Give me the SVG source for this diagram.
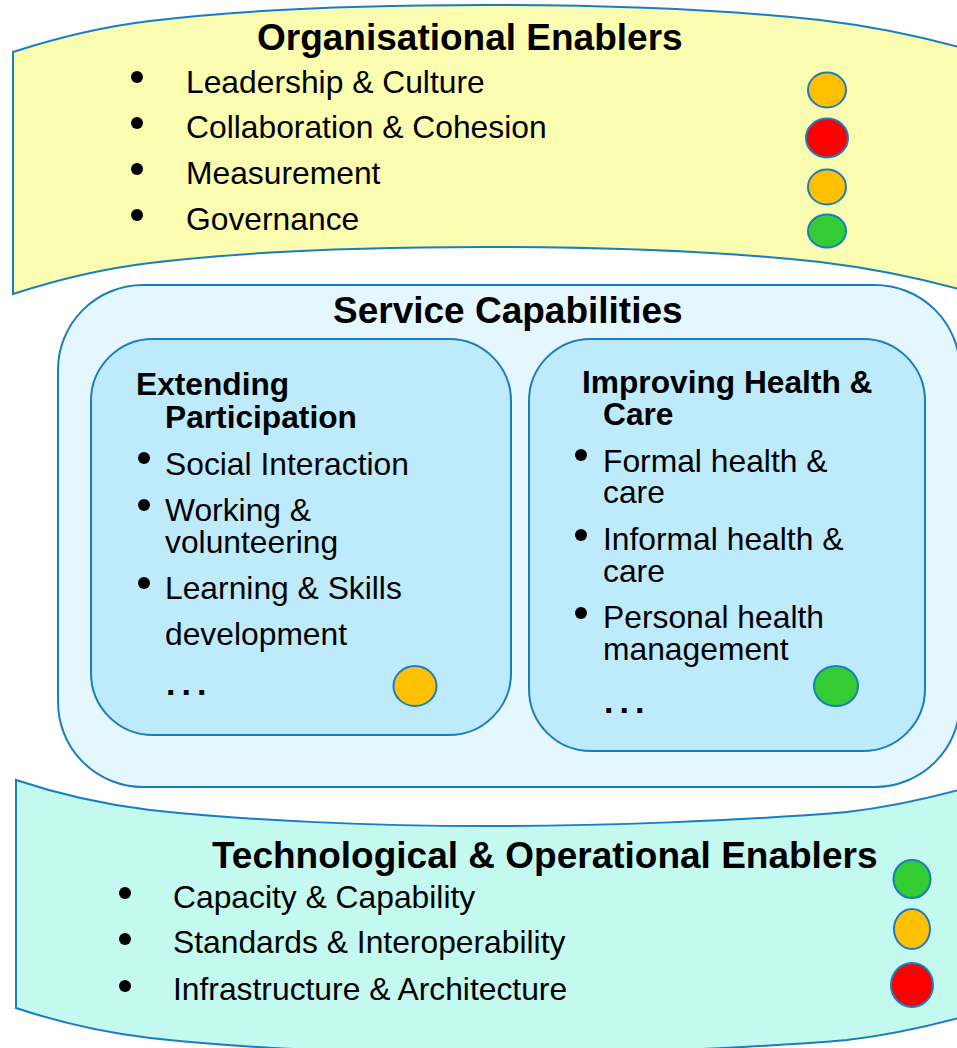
<svg xmlns="http://www.w3.org/2000/svg" width="957" height="1048" viewBox="0 0 957 1048">
<style>
.band{stroke:#1B7DBE;stroke-width:2}
.box{stroke:#1B7DBE;stroke-width:2}
.t{font-family:"Liberation Sans",Arial,sans-serif;font-size:31.8px;fill:#000}
.h{font-family:"Liberation Sans",Arial,sans-serif;font-size:37px;font-weight:bold;fill:#000}
.hb{font-family:"Liberation Sans",Arial,sans-serif;font-size:31.7px;font-weight:bold;fill:#000}
.el{font-family:"Liberation Sans",Arial,sans-serif;font-size:34px;font-weight:bold;fill:#000;letter-spacing:6px}
.dot{fill:#000}
.st{stroke:#1B7DBE;stroke-width:2}
.am{fill:#FFC000}
.rd{fill:#FF0000}
.gr{fill:#33CC33}
</style>
<rect width="957" height="1048" fill="#FFFFFF"/>
<g id="organisational-enablers">
<path class="band" fill="#FAFCAF" d="M13,52 C50,40 100,27 150,21 C250,9 380,5 485,5 C590,5 720,9 820,20 C870,26 920,36 970,50 L970,292 C920,278 870,268 820,262 C720,251 590,247 485,247 C380,247 250,251 150,263 C100,269 50,282 13,294 Z"/>
<text class="h" x="257" y="50">Organisational Enablers</text>
<circle class="dot" cx="137" cy="77" r="6"/>
<circle class="dot" cx="137" cy="123" r="6"/>
<circle class="dot" cx="137" cy="169" r="6"/>
<circle class="dot" cx="137" cy="215" r="6"/>
<text class="t" x="186" y="93">Leadership &amp; Culture</text>
<text class="t" x="186" y="138">Collaboration &amp; Cohesion</text>
<text class="t" x="186" y="184">Measurement</text>
<text class="t" x="186" y="230">Governance</text>
<ellipse class="st am" cx="827" cy="90" rx="19" ry="17.5"/>
<ellipse class="st rd" cx="827" cy="138" rx="21" ry="19.5"/>
<ellipse class="st am" cx="827" cy="187" rx="19" ry="17.5"/>
<ellipse class="st gr" cx="827" cy="231" rx="19" ry="16.5"/>
</g>
<g id="service-capabilities">
<rect class="box" fill="#E4F7FE" x="58" y="285" width="902" height="502" rx="85" ry="85"/>
<text class="h" x="333" y="323">Service Capabilities</text>
</g>
<g id="extending-participation">
<rect class="box" fill="#BDEBFC" x="91" y="339" width="420" height="396" rx="62" ry="62"/>
<text class="hb" x="136" y="395">Extending<tspan x="165" y="428">Participation</tspan></text>
<circle class="dot" cx="144" cy="458" r="6"/>
<circle class="dot" cx="144" cy="505" r="6"/>
<circle class="dot" cx="144" cy="583" r="6"/>
<text class="t" x="165" y="475">Social Interaction</text>
<text class="t" x="165" y="521">Working &amp;<tspan x="165" y="553">volunteering</tspan></text>
<text class="t" x="165" y="599">Learning &amp; Skills<tspan x="165" y="645">development</tspan></text>
<text class="el" x="166" y="695">...</text>
<ellipse class="st am" cx="415" cy="686" rx="21.5" ry="20"/>
</g>
<g id="improving-health-care">
<rect class="box" fill="#BDEBFC" x="529" y="339" width="396" height="412" rx="62" ry="62"/>
<text class="hb" x="582" y="393">Improving Health &amp;<tspan x="603" y="425">Care</tspan></text>
<circle class="dot" cx="581" cy="455" r="6"/>
<circle class="dot" cx="581" cy="535" r="6"/>
<circle class="dot" cx="581" cy="613" r="6"/>
<text class="t" x="603" y="472">Formal health &amp;<tspan x="603" y="503">care</tspan></text>
<text class="t" x="603" y="550">Informal health &amp;<tspan x="603" y="582">care</tspan></text>
<text class="t" x="603" y="628">Personal health<tspan x="603" y="660">management</tspan></text>
<text class="el" x="604" y="713">...</text>
<ellipse class="st gr" cx="836" cy="686" rx="22" ry="20"/>
</g>
<g id="technological-operational-enablers">
<path class="band" fill="#C3F9EE" d="M16,780 C55,793 100,804 150,810 C250,821 380,826 485,826 C600,826 740,821 847,812 C890,807 930,798 970,787 L970,1015 C930,1026 890,1035 847,1040 C740,1049 600,1054 485,1054 C380,1054 250,1049 150,1038 C100,1032 55,1021 16,1008 Z"/>
<text class="h" x="212" y="868">Technological &amp; Operational Enablers</text>
<circle class="dot" cx="125" cy="893" r="6"/>
<circle class="dot" cx="125" cy="939" r="6"/>
<circle class="dot" cx="125" cy="986" r="6"/>
<text class="t" x="173" y="908">Capacity &amp; Capability</text>
<text class="t" x="173" y="953">Standards &amp; Interoperability</text>
<text class="t" x="173" y="1000">Infrastructure &amp; Architecture</text>
<ellipse class="st gr" cx="912" cy="879" rx="18.5" ry="19"/>
<ellipse class="st am" cx="912" cy="929" rx="18" ry="20"/>
<ellipse class="st rd" cx="912" cy="985" rx="21" ry="22"/>
</g>
<g id="connectors"></g>
</svg>
